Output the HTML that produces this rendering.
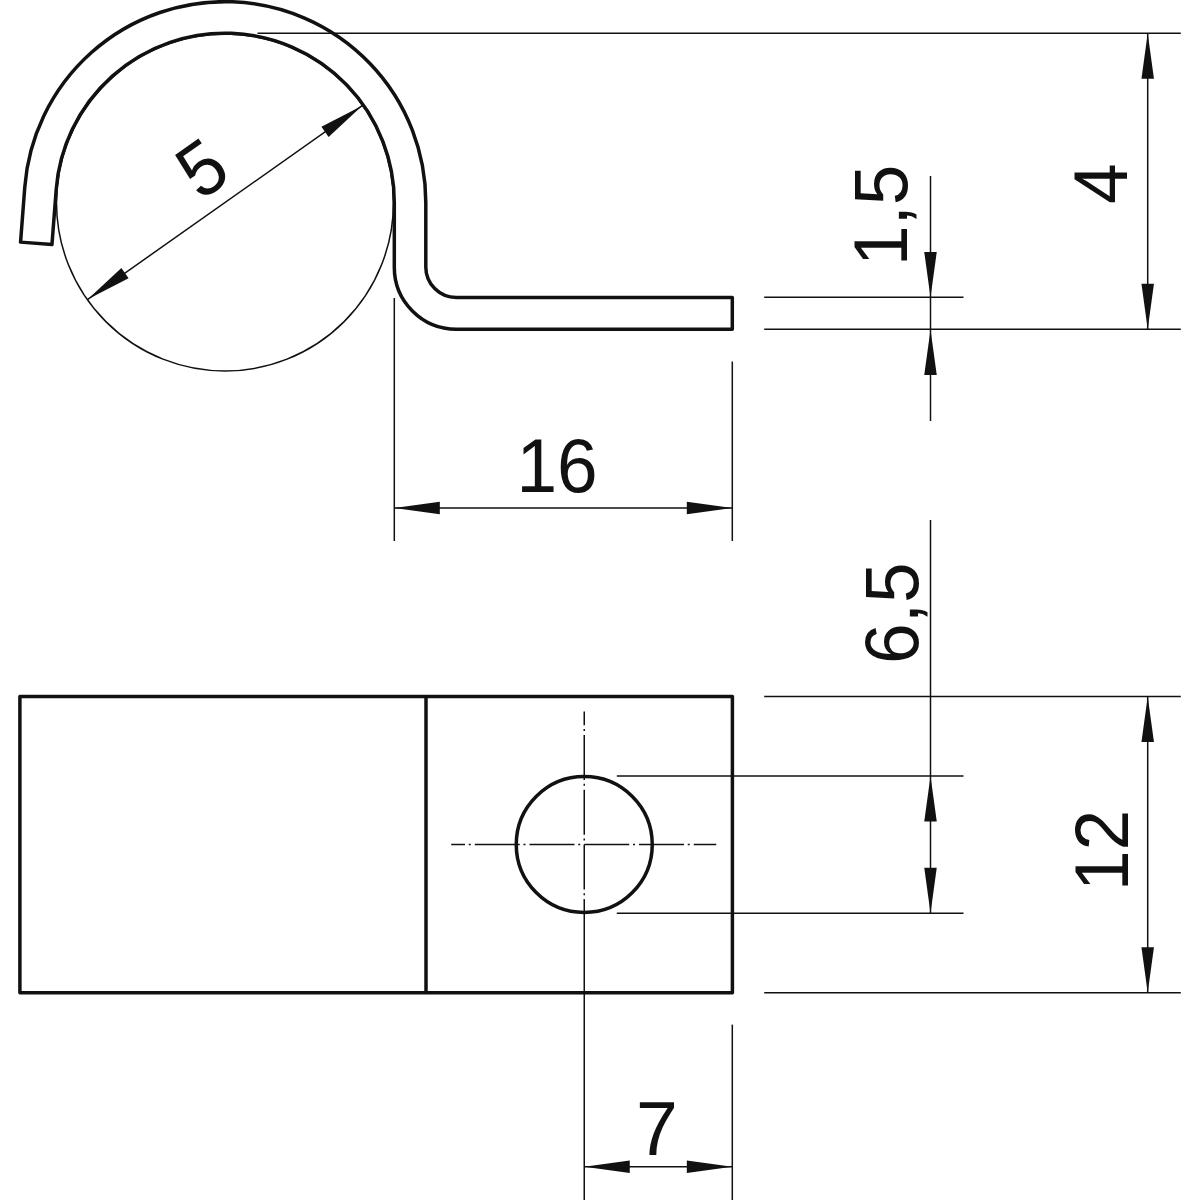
<!DOCTYPE html>
<html lang="en"><head><meta charset="utf-8"><title>Clip drawing</title>
<style>html,body{margin:0;padding:0;background:#fff}svg{display:block}text{font-family:"Liberation Sans",sans-serif;font-size:73px;fill:#111}</style></head><body>
<svg width="1200" height="1200" viewBox="0 0 1200 1200">
<rect width="1200" height="1200" fill="#fff"/>
<g fill="none" stroke="#111" stroke-width="1.5">
<circle cx="225.0" cy="202.5" r="168.5"/>
<path d="M257.5 33.2H1180.8"/>
<path d="M764.2 297.3H963.5"/>
<path d="M764.2 329.3H1180.8"/>
<path d="M930.5 176V421"/>
<path d="M1147.7 33.2V329.3"/>
<path d="M394.3 298V541"/>
<path d="M732.3 361.5V541"/>
<path d="M394.3 508H732.3"/>
<path d="M87.80 299.28L362.20 105.72"/>
<path d="M764.2 696.5H1180.8"/>
<path d="M764.2 992.8H1180.8"/>
<path d="M616.8 776H963.5"/>
<path d="M616.8 913.3H963.5"/>
<path d="M930.5 520V913.3"/>
<path d="M1147.7 696.5V992.8"/>
<path d="M732.3 1024.6V1200"/>
<path d="M584.25 899.5V1200"/>
<path d="M584.25 1166.8H732.3"/>
<path d="M451.25 844.5H716.25" stroke-dasharray="45 3.75 2 4" stroke-dashoffset="31.25"/>
<path d="M584.25 711.5V900" stroke-dasharray="45 3.75 2 4" stroke-dashoffset="31.25"/>
</g>
<g fill="none" stroke="#111" stroke-width="3.5" stroke-linejoin="round">
<path d="M732.3 297.5 H456.30 A30.5 30.5 0 0 1 425.80 267.00 V202.5 A200.8 200.8 0 0 0 24.79 187.09 L20.56 242.13 L51.96 244.55 L56.20 189.51 A169.3 169.3 0 0 1 394.30 202.5 V267.00 A62.00 62.00 0 0 0 456.30 329.2 H732.3 Z"/>
<rect x="19.9" y="696.5" width="712.5" height="296.3"/>
<path d="M426 696.5V992.8"/>
<circle cx="584.25" cy="844.5" r="68"/>
</g>
<g fill="#111" stroke="none">
<polygon points="930.50,297.50 924.25,252.00 936.75,252.00"/>
<polygon points="930.50,329.50 936.75,375.00 924.25,375.00"/>
<polygon points="1147.70,33.20 1153.95,78.70 1141.45,78.70"/>
<polygon points="1147.70,329.30 1141.45,283.80 1153.95,283.80"/>
<polygon points="394.30,508.00 439.80,501.75 439.80,514.25"/>
<polygon points="732.30,508.00 686.80,514.25 686.80,501.75"/>
<polygon points="362.20,105.72 328.62,137.05 321.42,126.84"/>
<polygon points="87.80,299.28 121.38,267.95 128.58,278.16"/>
<polygon points="930.50,776.00 936.75,821.50 924.25,821.50"/>
<polygon points="930.50,913.30 924.25,867.80 936.75,867.80"/>
<polygon points="1147.70,696.50 1153.95,742.00 1141.45,742.00"/>
<polygon points="1147.70,992.80 1141.45,947.30 1153.95,947.30"/>
<polygon points="584.25,1166.80 629.75,1160.55 629.75,1173.05"/>
<polygon points="732.30,1166.80 686.80,1173.05 686.80,1160.55"/>
</g>
<g text-anchor="middle">
<text transform="translate(557 491.8) scale(1 1.048)">16</text>
<text transform="translate(657 1154.5) scale(1.03 1.048)">7</text>
<text transform="translate(1127.2 183.8) rotate(-90) scale(1 1.048)">4</text>
<text transform="translate(907.3 215.3) rotate(-90) scale(1 1.048)">1,5</text>
<text transform="translate(918 613.2) rotate(-90) scale(1 1.048)">6,5</text>
<text transform="translate(1128 850.4) rotate(-90) scale(1 1.048)">12</text>
<text transform="translate(217.1 189.7) rotate(-35.20) scale(1 1.048)">5</text>
</g>
</svg></body></html>
